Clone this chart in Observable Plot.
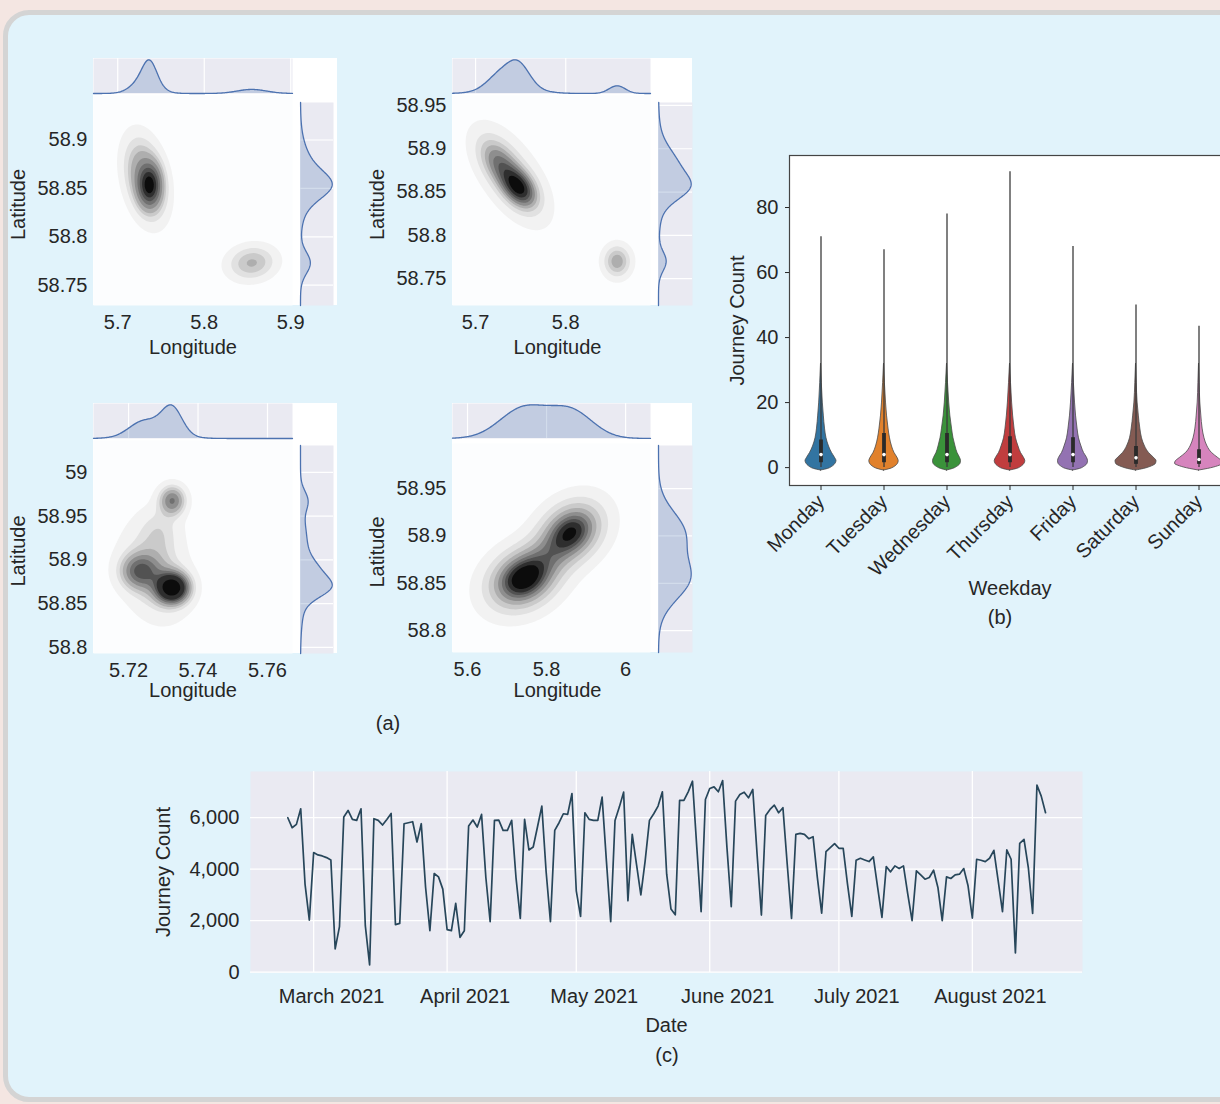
<!DOCTYPE html>
<html>
<head>
<meta charset="utf-8">
<script src="https://cdn.jsdelivr.net/npm/d3@7"></script>
<script src="https://cdn.jsdelivr.net/npm/@observablehq/plot@0.6"></script>
<style>
  html, body { margin:0; padding:0; }
  body { position:relative; width:1220px; height:1104px; overflow:hidden; background:#f4e6e2;
         font-family:"Liberation Sans", Arial, Helvetica, sans-serif; color:#262626; }
  #card { position:absolute; left:3px; top:10px; width:1260px; height:1092px; box-sizing:border-box;
          border:5px solid #d4d4d4; border-radius:26px; background:#e1f3fb; }
  .whitebg { position:absolute; background:#ffffff; }
  .caption { position:absolute; font-size:20px; transform:translate(-50%,-50%); white-space:nowrap; color:#262626; }
</style>
</head>
<body>
<div id="card"></div>
<script>
// ================= DATA =================
// (a) joint KDE panels: Gaussian components read from the contour shapes
// [lon, lat, sdLon, sdLat, correlation, weight]
const kdePanel1 = [
  [5.737, 58.853, 0.008, 0.013, 0.0, 0.35],
  [5.732, 58.860, 0.014, 0.024, -0.3, 0.50],
  [5.855, 58.773, 0.017, 0.011, 0.1, 0.16]
];
const kdePanel2 = [
  [5.748, 58.855, 0.012, 0.014, -0.4, 0.35],
  [5.727, 58.882, 0.014, 0.018, -0.5, 0.25],
  [5.740, 58.868, 0.024, 0.032, -0.6, 0.30],
  [5.857, 58.770, 0.009, 0.011, 0.0, 0.10]
];
const kdePanel3 = [
  [5.7326, 58.868, 0.0030, 0.011, 0.0, 0.30],
  [5.7232, 58.887, 0.0036, 0.013, 0.0, 0.17],
  [5.7275, 58.885, 0.0060, 0.032, -0.2, 0.36],
  [5.7290, 58.935, 0.0040, 0.018, 0.0, 0.07],
  [5.7326, 58.968, 0.0025, 0.011, 0.0, 0.10]
];
const kdePanel4 = [
  [5.742, 58.855, 0.060, 0.022, 0.25, 0.55],
  [5.862, 58.904, 0.055, 0.022, 0.25, 0.45]
];
const lonTicks1 = [5.7, 5.8, 5.9];
const latTicks1 = [58.75, 58.8, 58.85, 58.9];
const lonTicks2 = [5.7, 5.8];
const latTicks2 = [58.75, 58.8, 58.85, 58.9, 58.95];
const lonTicks3 = [5.72, 5.74, 5.76];
const latTicks3 = [58.8, 58.85, 58.9, 58.95, 59];
const lonTicks4 = [5.6, 5.8, 6];
const latTicks4 = [58.8, 58.85, 58.9, 58.95];
const lonExtent1 = [5.672, 5.902],  latExtent1 = [58.729, 58.946];
const lonExtent2 = [5.6744, 5.894], latExtent2 = [58.719, 58.9615];
const lonExtent3 = [5.7099, 5.7672], latExtent3 = [58.793, 59.0365];
const lonExtent4 = [5.562, 6.063],  latExtent4 = [58.777, 58.9976];

// (b) violin plot
const weekdays = ["Monday", "Tuesday", "Wednesday", "Thursday", "Friday", "Saturday", "Sunday"];
const violinColors = ["#3274a1", "#e1812c", "#3a923a", "#c03d3e", "#9372b2", "#845b53", "#d684bd"];
const violinMax = [71, 67, 78, 91, 68, 50, 43.5];
const violinQ1 = [1.5, 1.5, 1.5, 1.5, 1.5, 1, 1];
const violinMedian = [4, 4, 4, 4, 4, 3, 2.5];
const violinQ3 = [8.5, 10.5, 10.5, 9.5, 9.2, 6.5, 5.5];
const violinLevels = [-0.9, -0.4, 0.4, 1.2, 2, 3, 4.5, 6.5, 9, 12, 16, 20, 26, 32];
const densityMonday    = [0, 7, 12, 14.5, 15.5, 14, 11, 8, 5.5, 4, 2.8, 1.8, 0.8, 0];
const densityTuesday   = [0, 6.5, 11.5, 14, 14.7, 13.5, 10.5, 8, 6, 4.5, 3, 2, 0.9, 0];
const densityWednesday = [0, 6, 11, 13.5, 14, 13, 10.5, 8.5, 6.5, 5, 3.3, 2.2, 1.0, 0];
const densityThursday  = [0, 7, 12, 14.5, 15.3, 14, 11, 8.5, 6, 4.5, 3.1, 2.1, 1.0, 0];
const densityFriday    = [0, 7, 12, 14.5, 15, 14, 11, 8.5, 6, 4.5, 3, 2, 0.9, 0];
const densitySaturday  = [0, 8, 16, 20, 20.5, 18, 13, 9, 6, 4.3, 2.8, 1.6, 0.7, 0];
const densitySunday    = [0, 9, 19, 24, 23, 19, 13, 8.5, 5.5, 3.6, 2.3, 1.3, 0.6, 0];
const violinTicks = [0, 20, 40, 60, 80];

// (c) daily journey counts starting 2021-02-23
const seriesStart = "2021-02-23";
const dailyJourneys = [
  5998, 5611, 5740, 6347, 3424, 2025,
  4644, 4554, 4515, 4450, 4360, 903, 1767, 6024, 6282, 5934, 5895, 6347, 1806, 284, 5960, 5895, 5715, 5934, 6166, 1845, 1896, 5766, 5805, 5844, 5057, 5766, 3300, 1612, 3831, 3702, 3225,
  1651, 1612, 2670, 1354, 1612, 5676, 5908, 5637, 6127, 3676, 1960, 5895, 5908, 5508, 5508, 5895, 3676, 2090, 5934, 4747, 4863, 5650, 6450, 3900, 1960, 5508, 5805, 6153, 6127, 6940,
  3160, 2167, 6192, 5934, 5895, 5895, 6798, 4321, 1960, 5895, 6411, 6992, 2773, 5353, 4180, 3006, 4321, 5895, 6153, 6450, 7005, 3805, 2451, 2231, 6669, 6669, 7005, 7418, 4837, 2348, 6708,
  7134, 7198, 7005, 7443, 4837, 2541, 6644, 6901, 6992, 6772, 7095, 4580, 2219, 6089, 6321, 6489, 6192, 6386, 4193, 2090, 5354, 5392, 5354, 5186, 5263, 3676, 2296, 4683, 4837, 4992,
  4812, 4812, 3418, 2167, 4347, 4425, 4360, 4296, 4476, 3290, 2128, 4102, 3896, 4128, 4025, 4128, 3032, 2000, 3935, 3780, 3612, 3677, 3960, 3290, 2000, 3702, 3638, 3780, 3806, 4025, 3354,
  2103, 4386, 4347, 4296, 4425, 4734, 3548, 2348, 4747, 4386, 748, 5005, 5160, 4064, 2283, 7263, 6837, 6192
];
const monthTicks = ["2021-03-01", "2021-04-01", "2021-05-01", "2021-06-01", "2021-07-01", "2021-08-01"];
const countTicks = [0, 2000, 4000, 6000];

// ================= RENDERING =================
const FONT = '"Liberation Sans", Arial, Helvetica, sans-serif';
const INK = "#262626";
const baseStyle = {background: "transparent", overflow: "visible", fontFamily: FONT, fontSize: "20px", color: INK, maxWidth: "none"};
const numFmt = d => String(Math.round(d * 1000) / 1000);

function place(node, left, top) {
  node.style.position = "absolute";
  node.style.left = left + "px";
  node.style.top = top + "px";
  document.body.appendChild(node);
}
function addDiv(cls, x0, x1, y0, y1) {
  const d = document.createElement("div");
  d.className = cls;
  Object.assign(d.style, {left: x0 + "px", top: y0 + "px", width: (x1 - x0) + "px", height: (y1 - y0) + "px"});
  document.body.appendChild(d);
}
function caption(text, x, y) {
  const d = document.createElement("div");
  d.className = "caption";
  d.textContent = text;
  d.style.left = x + "px"; d.style.top = y + "px";
  document.body.appendChild(d);
}

function mixture2d(comps, x, y) {
  let s = 0;
  for (const [mx, my, sx, sy, r, w] of comps) {
    const u = (x - mx) / sx, v = (y - my) / sy, k = 1 - r * r;
    s += w * Math.exp(-(u * u - 2 * r * u * v + v * v) / (2 * k)) / (2 * Math.PI * sx * sy * Math.sqrt(k));
  }
  return s;
}
function mixture1d(comps, t, axis) {
  let s = 0;
  for (const c of comps) {
    const m = c[axis], sd = c[axis + 2], w = c[5], z = (t - m) / sd;
    s += w * Math.exp(-z * z / 2) / (sd * Math.sqrt(2 * Math.PI));
  }
  return s;
}
// iso-proportion levels, as seaborn's kdeplot (levels=10, thresh=0.05)
const isoProps = d3.range(9).map(i => 0.05 + i * 0.95 / 9);
function isoLevels(f, xe, ye) {
  const n = 180, vals = new Float64Array(n * n);
  let k = 0;
  for (let i = 0; i < n; i++) for (let j = 0; j < n; j++)
    vals[k++] = f(xe[0] + (xe[1] - xe[0]) * (i + 0.5) / n, ye[0] + (ye[1] - ye[0]) * (j + 0.5) / n);
  vals.sort();
  let s = 0; const total = d3.sum(vals); const cum = new Float64Array(vals.length);
  for (let i = 0; i < vals.length; i++) { s += vals[i]; cum[i] = s / total; }
  return isoProps.map(p => vals[Math.min(vals.length - 1, d3.bisectLeft(cum, p))]);
}
const kdeGreys = d3.range(9).map(i => d3.interpolateGreys(0.1 + 0.86 * i / 8));
const sampleRange = ([a, b]) => d3.range(241).map(i => a + (b - a) * i / 240);

const panels = [
  {comps: kdePanel1, lonTicks: lonTicks1, latTicks: latTicks1, lonExtent: lonExtent1, latExtent: latExtent1,
   main: [93, 292, 95, 305], top: [93, 292, 58, 93], right: [300, 333, 102, 305], bg: [93, 337, 58, 305], xdy: 42, xdx: 0},
  {comps: kdePanel2, lonTicks: lonTicks2, latTicks: latTicks2, lonExtent: lonExtent2, latExtent: latExtent2,
   main: [452, 650, 95, 305], top: [452, 650, 58, 93], right: [658, 692, 102, 305], bg: [452, 692, 58, 305], xdy: 42, xdx: 6},
  {comps: kdePanel3, lonTicks: lonTicks3, latTicks: latTicks3, lonExtent: lonExtent3, latExtent: latExtent3,
   main: [93, 292, 440, 653], top: [93, 292, 403, 438], right: [300, 333, 445, 653], bg: [93, 337, 403, 653], xdy: 37, xdx: 0},
  {comps: kdePanel4, lonTicks: lonTicks4, latTicks: latTicks4, lonExtent: lonExtent4, latExtent: latExtent4,
   main: [452, 650, 443, 652], top: [452, 650, 403, 438], right: [658, 692, 445, 652], bg: [452, 692, 403, 652], xdy: 38, xdx: 6}
];

for (const p of panels) {
  addDiv("whitebg", ...p.bg);
  // main joint KDE
  const [x0, x1, y0, y1] = p.main;
  const pad = {l: 100, r: 20, t: 10, b: 60};
  const f = (x, y) => mixture2d(p.comps, x, y);
  const levels = isoLevels(f, p.lonExtent, p.latExtent);
  const main = Plot.plot({
    width: x1 - x0 + pad.l + pad.r, height: y1 - y0 + pad.t + pad.b,
    marginLeft: pad.l, marginRight: pad.r, marginTop: pad.t, marginBottom: pad.b,
    style: baseStyle,
    x: {domain: p.lonExtent}, y: {domain: p.latExtent},
    color: {type: "threshold", domain: levels.slice(1), range: kdeGreys},
    marks: [
      Plot.frame({fill: "#fcfdfe"}),
      Plot.contour({x1: p.lonExtent[0], x2: p.lonExtent[1], y1: p.latExtent[0], y2: p.latExtent[1],
                    fill: f, thresholds: levels, stroke: "none"}),
      Plot.axisX(p.lonTicks, {tickSize: 0, tickPadding: 9, tickFormat: numFmt, fontSize: 20, label: null}),
      Plot.axisY(p.latTicks, {tickSize: 0, tickPadding: 6, tickFormat: numFmt, fontSize: 20, label: null}),
      Plot.text(["Longitude"], {text: d => d, frameAnchor: "bottom", dy: p.xdy, dx: p.xdx, lineAnchor: "middle",
                                textAnchor: "middle", fontSize: 20, fill: INK}),
      Plot.text(["Latitude"], {text: d => d, frameAnchor: "left", dx: -75, dy: 4, rotate: -90, lineAnchor: "middle",
                               textAnchor: "middle", fontSize: 20, fill: INK})
    ]
  });
  place(main, x0 - pad.l, y0 - pad.t);

  // top marginal
  const [tx0, tx1, ty0, ty1] = p.top;
  const topPts = sampleRange(p.lonExtent).map(v => ({v, d: mixture1d(p.comps, v, 0)}));
  const topMax = d3.max(topPts, d => d.d);
  const top = Plot.plot({
    width: tx1 - tx0, height: ty1 - ty0, margin: 0, style: baseStyle, axis: null,
    x: {domain: p.lonExtent}, y: {domain: [0, topMax * 1.04]},
    marks: [
      Plot.frame({fill: "#eaeaf2"}),
      Plot.ruleX(p.lonTicks, {stroke: "white", strokeWidth: 1.2}),
      Plot.areaY(topPts, {x: "v", y: "d", fill: "#4c72b0", fillOpacity: 0.25}),
      Plot.lineY(topPts, {x: "v", y: "d", stroke: "#4c72b0", strokeWidth: 1.3})
    ]
  });
  place(top, tx0, ty0);

  // right marginal, aligned with the main latitude scale
  const [rx0, rx1, ry0, ry1] = p.right;
  const latAt = py => p.latExtent[1] + (py - y0) / (y1 - y0) * (p.latExtent[0] - p.latExtent[1]);
  const rExtent = [latAt(ry1), latAt(ry0)];
  const rPts = sampleRange(rExtent).map(v => ({v, d: mixture1d(p.comps, v, 1)}));
  const rMax = d3.max(rPts, d => d.d);
  const right = Plot.plot({
    width: rx1 - rx0, height: ry1 - ry0, margin: 0, style: baseStyle, axis: null,
    x: {domain: [0, rMax * 1.04]}, y: {domain: rExtent},
    marks: [
      Plot.frame({fill: "#eaeaf2"}),
      Plot.ruleY(p.latTicks, {stroke: "white", strokeWidth: 1.2}),
      Plot.areaX(rPts, {y: "v", x: "d", fill: "#4c72b0", fillOpacity: 0.25}),
      Plot.lineX(rPts, {y: "v", x: "d", stroke: "#4c72b0", strokeWidth: 1.3})
    ]
  });
  place(right, rx0, ry0);
}
caption("(a)", 388, 723);

// ---------- (b) violins ----------
const densities = [densityMonday, densityTuesday, densityWednesday, densityThursday, densityFriday, densitySaturday, densitySunday];
const halfWidthPerDensity = 1 / 63;
const violinRows = weekdays.flatMap((day, i) =>
  violinLevels.map((y, j) => ({day, i, y, w: densities[i][j]})).filter(d => d.y <= violinMax[i]));
const violinStats = weekdays.map((day, i) => ({day, i, max: violinMax[i], q1: violinQ1[i], median: violinMedian[i], q3: violinQ3[i]}));

const violin = Plot.plot({
  width: 560, height: 500, marginLeft: 89, marginRight: 30, marginTop: 15, marginBottom: 155,
  style: baseStyle,
  x: {domain: [-0.5, 6.5]}, y: {domain: [-5.5, 96]},
  color: {domain: weekdays, range: violinColors},
  marks: [
    Plot.frame({fill: "white", stroke: "#444", strokeWidth: 1.2}),
    Plot.areaX(violinRows, {y: "y", x1: d => d.i - d.w * halfWidthPerDensity, x2: d => d.i + d.w * halfWidthPerDensity,
                            z: "day", fill: "day", stroke: "#4a4a4a", strokeWidth: 0.8, curve: "monotone-y"}),
    Plot.ruleX(violinStats, {x: "i", y1: 0, y2: "max", stroke: "#3c3c3c", strokeWidth: 1.3}),
    Plot.ruleX(violinStats, {x: "i", y1: "q1", y2: "q3", stroke: "#2a2a2a", strokeWidth: 3.8}),
    Plot.dot(violinStats, {x: "i", y: "median", r: 1.8, fill: "white", stroke: "none"}),
    Plot.axisX(d3.range(7), {tickFormat: i => weekdays[i], tickRotate: -45, tickSize: 5, tickPadding: 8, fontSize: 20, label: null}),
    Plot.axisY(violinTicks, {tickSize: 4, tickPadding: 7, fontSize: 20, label: null}),
    Plot.text(["Weekday"], {text: d => d, frameAnchor: "bottom", dy: 103, lineAnchor: "middle", textAnchor: "middle", fontSize: 20, fill: INK}),
    Plot.text(["Journey Count"], {text: d => d, frameAnchor: "left", dx: -52, rotate: -90, lineAnchor: "middle", textAnchor: "middle", fontSize: 20, fill: INK})
  ]
});
place(violin, 700, 140);
caption("(b)", 1000, 617);

// ---------- (c) time series ----------
const start = new Date(seriesStart + "T00:00:00Z");
const tsData = dailyJourneys.map((count, i) => ({date: d3.utcDay.offset(start, i), count}));
const monthDates = monthTicks.map(s => new Date(s + "T00:00:00Z"));
const ts = Plot.plot({
  width: 960, height: 310, marginLeft: 110, marginRight: 18, marginTop: 16, marginBottom: 93,
  style: baseStyle,
  x: {type: "utc", domain: [new Date("2021-02-14T08:00:00Z"), new Date("2021-08-26T14:00:00Z")]},
  y: {domain: [-12, 7794]},
  marks: [
    Plot.frame({fill: "#eaeaf2"}),
    Plot.gridX(monthDates, {stroke: "white", strokeOpacity: 1, strokeWidth: 1.3}),
    Plot.gridY(countTicks, {stroke: "white", strokeOpacity: 1, strokeWidth: 1.3}),
    Plot.lineY(tsData, {x: "date", y: "count", stroke: "#27465a", strokeWidth: 1.7}),
    Plot.axisX(monthDates, {tickSize: 0, tickPadding: 16, tickFormat: d3.utcFormat("%B %Y"), dx: 18, fontSize: 20, label: null}),
    Plot.axisY(countTicks, {tickSize: 0, tickPadding: 11, tickFormat: d3.format(","), fontSize: 20, label: null}),
    Plot.text(["Date"], {text: d => d, frameAnchor: "bottom", dy: 53, lineAnchor: "middle", textAnchor: "middle", fontSize: 20, fill: INK}),
    Plot.text(["Journey Count"], {text: d => d, frameAnchor: "left", dx: -87, rotate: -90, lineAnchor: "middle", textAnchor: "middle", fontSize: 20, fill: INK})
  ]
});
place(ts, 140, 755);
caption("(c)", 667, 1055);
</script>
</body>
</html>
